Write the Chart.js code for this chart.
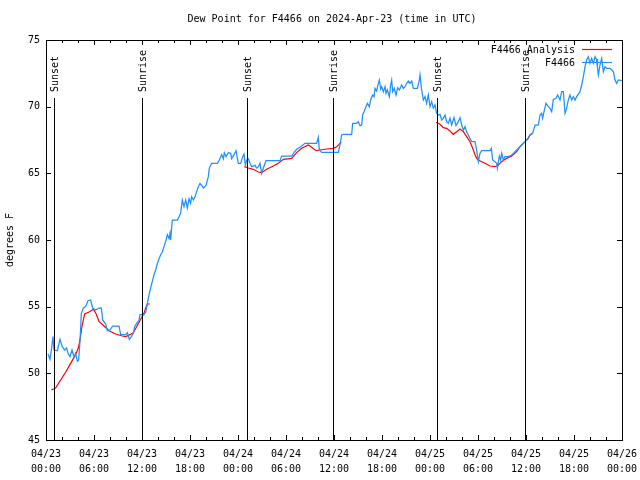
<!DOCTYPE html>
<html>
<head>
<meta charset="utf-8">
<script src="https://cdn.jsdelivr.net/npm/chart.js@4/dist/chart.umd.min.js"></script>
<style>
html,body{margin:0;padding:0;background:#fff;}
canvas{display:block;}
</style>
</head>
<body>
<canvas id="c" width="640" height="480" style="width:640px;height:480px"></canvas>
<script>
// ---- data (hours since 2024-04-23 00:00 UTC) ----
const xTickLabels = [
  ['04/23','00:00'],['04/23','06:00'],['04/23','12:00'],['04/23','18:00'],
  ['04/24','00:00'],['04/24','06:00'],['04/24','12:00'],['04/24','18:00'],
  ['04/25','00:00'],['04/25','06:00'],['04/25','12:00'],['04/25','18:00'],
  ['04/26','00:00']
];
const yTickValues = [45,50,55,60,65,70,75];

const obsHours = [0.25,0.5,0.67,0.875,1.0,1.42,1.75,2.04,2.33,2.58,2.75,3.0,3.25,3.5,3.7,3.92,4.08,4.25,4.42,4.67,4.96,5.25,5.58,5.83,6.2,6.63,6.92,7.08,7.46,7.67,8.0,8.33,9.13,9.33,9.96,10.17,10.42,10.67,10.92,11.08,11.33,11.63,11.75,12.25,12.46,12.67,12.88,13.08,13.29,13.5,13.71,13.92,14.13,14.33,14.54,14.75,14.96,15.17,15.38,15.5,15.58,15.79,16.42,16.63,16.83,17.04,17.25,17.46,17.67,17.88,18.08,18.2,18.42,18.63,19.04,19.25,19.46,19.67,20.0,20.29,20.42,20.71,21.42,21.67,21.96,22.17,22.29,22.5,22.79,23.08,23.21,23.5,23.75,24.04,24.33,24.58,24.75,24.92,25.08,25.29,25.5,25.71,26.13,26.33,26.54,26.75,26.96,27.17,27.5,29.25,29.46,30.71,31.0,31.33,31.75,32.38,33.83,34.04,34.17,34.46,36.54,36.75,36.96,37.17,38.21,38.33,38.83,39.04,39.25,39.46,39.58,39.75,40.0,40.17,40.42,40.58,40.83,41.0,41.13,41.33,41.54,41.67,41.83,41.96,42.17,42.38,42.5,42.67,42.92,43.08,43.21,43.33,43.54,43.75,43.96,44.17,44.46,44.67,44.88,45.08,45.29,45.5,45.71,45.92,46.42,46.67,46.75,46.96,47.17,47.38,47.58,47.79,48.0,48.21,48.42,48.63,48.83,49.04,49.25,49.46,49.67,49.88,50.08,50.29,50.5,50.71,51.0,51.25,51.54,51.75,51.96,52.17,52.38,52.58,52.79,53.0,53.21,53.63,53.83,54.04,54.25,54.46,55.5,55.67,55.83,56.13,56.33,56.42,56.67,56.83,56.96,57.17,57.38,57.79,58.21,58.63,59.04,59.46,59.75,60.08,60.5,60.83,61.13,61.54,61.75,61.96,62.08,62.25,62.5,62.79,63.0,63.21,63.42,63.75,63.96,64.25,64.46,64.67,64.88,65.08,65.29,65.5,65.71,65.92,66.13,66.33,66.75,66.96,67.17,67.38,67.58,67.79,68.0,68.21,68.42,68.63,68.83,69.04,69.25,69.46,69.67,69.88,70.08,70.5,70.71,70.92,71.13,71.33,71.54,71.96];
const obsDewPoint = [51.45,51.05,51.75,52.75,51.75,51.7,52.55,52.0,51.75,51.9,51.5,51.25,51.75,51.25,51.5,50.9,51.0,52.4,54.5,54.9,55.0,55.45,55.5,54.9,54.75,54.9,54.9,54.0,53.7,53.2,53.25,53.55,53.55,52.9,52.9,53.05,52.55,52.75,53.0,53.5,53.75,54.0,54.4,54.4,54.6,55.25,55.9,56.4,56.9,57.4,57.75,58.25,58.6,58.9,59.1,59.5,59.9,60.4,60.1,60.5,60.0,61.5,61.5,61.75,62.0,63.0,62.5,63.0,62.4,63.1,62.75,63.25,63.0,63.25,64.0,64.25,64.1,63.9,64.1,64.75,65.4,65.75,65.75,66.0,66.4,66.1,66.55,66.25,66.55,66.5,66.1,66.4,66.7,65.75,65.75,66.25,66.45,65.6,66.0,66.1,65.75,65.5,65.6,65.4,65.5,65.75,65.0,65.4,65.95,65.95,66.3,66.3,66.55,66.8,66.95,67.25,67.25,67.7,66.75,66.575,66.575,67.125,67.875,67.925,67.925,68.75,68.75,68.875,68.575,68.625,69.375,69.625,70.0,70.25,70.0,70.5,70.875,70.75,71.375,71.175,71.75,72.0,71.325,71.5,71.125,71.5,71.0,71.25,70.75,71.625,72.0,71.125,71.375,70.875,71.425,71.25,71.625,71.375,71.5,71.75,71.925,71.75,71.925,71.375,71.375,72.0,72.375,71.25,70.5,70.75,70.25,70.875,70.0,70.375,69.875,70.125,69.5,69.375,69.425,69.0,69.125,69.375,68.875,68.75,69.125,68.625,69.175,68.575,68.875,69.175,68.625,68.25,68.5,68.125,67.875,67.6,67.4,67.375,66.75,65.875,66.5,66.7,66.7,66.875,66.0,65.875,65.75,65.375,66.3,66.0,66.5,66.0,66.25,66.25,66.375,66.625,66.875,67.125,67.3,67.5,67.875,68.0,68.625,68.625,69.375,69.5,69.125,69.625,70.25,70.0,69.875,69.625,70.55,70.625,70.875,70.5,71.125,71.125,69.5,69.875,70.5,70.875,70.5,70.75,70.5,70.75,71.125,71.625,72.25,73.0,73.5,73.75,73.25,73.625,73.25,73.75,73.5,72.375,73.125,73.625,72.625,73.0,72.875,72.875,72.75,72.625,72.0,71.75,72.0,71.95];

const anaHours = [0.67,1.2,1.83,2.46,3.08,3.7,4.04,4.25,4.46,4.67,4.83,5.38,5.92,6.2,6.63,7.25,7.88,8.7,9.54,9.96,10.5,10.92,11.33,11.83,12.25,12.46,12.67,13.0,
  18.8,
  24.8,25.29,25.92,26.54,26.96,27.58,28.42,29.04,29.67,30.71,31.33,31.96,32.79,33.21,33.75,34.25,35.08,35.92,36.33,36.6,36.9,
  42.8,
  48.75,49.25,49.67,50.08,50.5,50.92,51.33,51.75,52.17,52.58,53.0,53.33,53.63,53.83,54.04,54.46,54.88,55.5,56.13,56.54,56.96,57.58,58.21,58.83,59.25,59.875,60.29,60.5,60.83];
const anaDewPoint = [48.75,48.9,49.5,50.1,50.75,51.4,51.9,52.5,53.4,54.0,54.45,54.6,54.8,54.55,53.9,53.55,53.2,52.95,52.8,52.75,52.9,53.05,53.5,54.05,54.5,54.9,55.2,55.2,
  null,
  65.5,65.4,65.3,65.1,65.05,65.3,65.55,65.75,66.05,66.125,66.55,66.875,67.125,66.95,66.7,66.75,66.825,66.875,67.0,67.15,67.33,
  null,
  68.825,68.675,68.425,68.375,68.175,67.925,68.125,68.325,68.125,67.75,67.375,66.875,66.4,66.125,66.0,65.875,65.75,65.55,65.5,65.625,65.875,66.125,66.3,66.625,67.0,67.375,67.625,67.875,68.0];

const sunHours = [1.05,12.05,25.08,35.92,48.92,59.88];
const sunLabels = ['Sunset','Sunrise','Sunset','Sunrise','Sunset','Sunrise'];

const FONT = '"DejaVu Sans Mono", "Liberation Mono", monospace';
const BLUE = '#1e90ff';
const RED = '#ff0000';

const decor = {
  id: 'decor',
  beforeDraw(chart) {
    const ctx = chart.ctx;
    ctx.save();
    ctx.fillStyle = '#fff';
    ctx.fillRect(0, 0, chart.width, chart.height);
    ctx.restore();
  },
  afterDatasetsDraw(chart) {
    const ctx = chart.ctx;
    const a = chart.chartArea;
    const xs = chart.scales.x, ys = chart.scales.y;
    ctx.save();
    ctx.strokeStyle = '#000';
    ctx.lineWidth = 1;
    // sun lines
    ctx.fillStyle = '#000';
    ctx.font = '10px ' + FONT;
    sunHours.forEach((h, i) => {
      const px = Math.round(xs.getPixelForValue(h)) + 0.5;
      ctx.beginPath();
      ctx.moveTo(px, a.top + 58);
      ctx.lineTo(px, a.bottom);
      ctx.stroke();
      ctx.save();
      ctx.translate(px + 1, a.top + 52);
      ctx.rotate(-Math.PI / 2);
      ctx.textAlign = 'left';
      ctx.textBaseline = 'middle';
      ctx.fillText(sunLabels[i], 0, 0);
      ctx.restore();
    });
    // border box
    ctx.strokeRect(Math.round(a.left) + 0.5, Math.round(a.top) + 0.5, Math.round(a.right - a.left), Math.round(a.bottom - a.top));
    // x ticks (inward, top & bottom)
    for (let h = 0; h <= 72; h += 2) {
      const px = Math.round(xs.getPixelForValue(h)) + 0.5;
      const len = (h % 6 === 0) ? 5 : 3;
      ctx.beginPath();
      ctx.moveTo(px, a.bottom); ctx.lineTo(px, a.bottom - len);
      ctx.moveTo(px, a.top); ctx.lineTo(px, a.top + len);
      ctx.stroke();
    }
    // y ticks
    yTickValues.forEach(v => {
      const py = Math.round(ys.getPixelForValue(v)) + 0.5;
      ctx.beginPath();
      ctx.moveTo(a.left, py); ctx.lineTo(a.left + 5, py);
      ctx.moveTo(a.right, py); ctx.lineTo(a.right - 5, py);
      ctx.stroke();
    });
    // title
    ctx.textAlign = 'center';
    ctx.textBaseline = 'middle';
    ctx.fillText('Dew Point for F4466 on 2024-Apr-23 (time in UTC)', 332, 19);
    // legend
    ctx.textAlign = 'right';
    ctx.fillText('F4466 Analysis', 575, 50);
    ctx.fillText('F4466', 575, 63);
    ctx.lineWidth = 1.2;
    ctx.strokeStyle = RED;
    ctx.beginPath(); ctx.moveTo(582, 49.5); ctx.lineTo(612, 49.5); ctx.stroke();
    ctx.strokeStyle = BLUE;
    ctx.beginPath(); ctx.moveTo(582, 62.5); ctx.lineTo(612, 62.5);
    ctx.moveTo(597.5, 59); ctx.lineTo(597.5, 66);
    ctx.stroke();
    ctx.restore();
  }
};

new Chart(document.getElementById('c'), {
  type: 'line',
  data: {
    datasets: [
      {
        label: 'F4466 Analysis',
        data: anaHours.map((h, i) => ({x: h, y: anaDewPoint[i]})),
        borderColor: RED, borderWidth: 1.2, pointRadius: 0, tension: 0,
        spanGaps: false, fill: false, order: 1
      },
      {
        label: 'F4466',
        data: obsHours.map((h, i) => ({x: h, y: obsDewPoint[i]})),
        borderColor: BLUE, borderWidth: 1.25, pointRadius: 0, tension: 0,
        fill: false, order: 0
      }
    ]
  },
  options: {
    responsive: false,
    animation: false,
    devicePixelRatio: 1,
    layout: { padding: { left: 0, right: 18, top: 40, bottom: 0 } },
    plugins: { legend: { display: false }, title: { display: false }, tooltip: { enabled: false } },
    scales: {
      x: {
        type: 'linear', min: 0, max: 72,
        grid: { display: false, drawTicks: false },
        border: { display: false },
        afterFit(s) { s.height = 40; s.paddingLeft = 0; s.paddingRight = 0; },
        ticks: {
          stepSize: 6, autoSkip: false, maxRotation: 0, padding: 7,
          color: '#000', font: { family: FONT, size: 10, lineHeight: 1.5 },
          callback: (v) => xTickLabels[Math.round(v / 6)]
        }
      },
      y: {
        type: 'linear', min: 45, max: 75,
        grid: { display: false, drawTicks: false },
        border: { display: false },
        afterFit(s) { s.width = 46; },
        title: { display: true, text: 'degrees F', color: '#000', font: { family: FONT, size: 10 }, padding: { top: 4, bottom: 0 } },
        ticks: {
          stepSize: 5, padding: 6, color: '#000',
          font: { family: FONT, size: 10 }
        }
      }
    }
  },
  plugins: [decor]
});
</script>
</body>
</html>
